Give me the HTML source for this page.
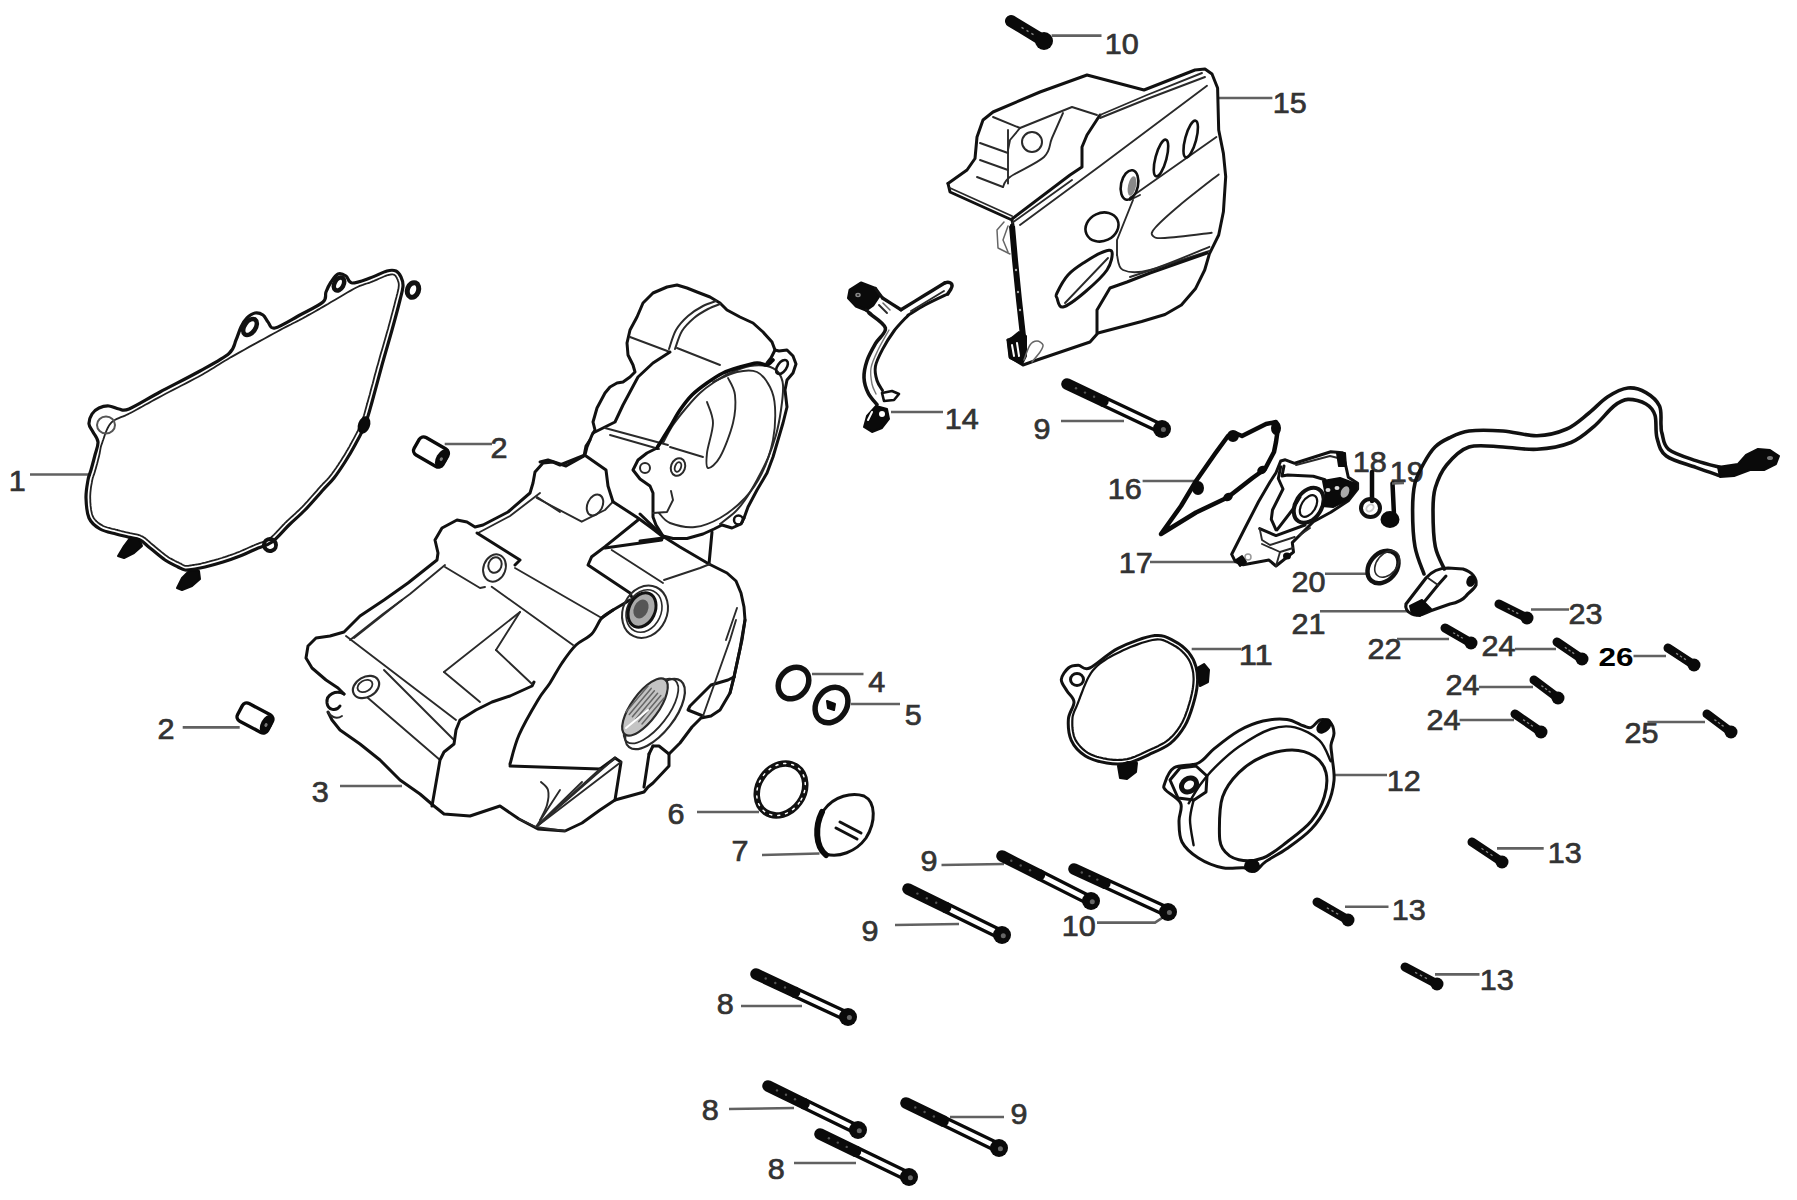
<!DOCTYPE html>
<html><head><meta charset="utf-8"><style>
html,body{margin:0;padding:0;background:#fff;overflow:hidden;width:1797px;height:1200px;}
svg{display:block;}
.k{fill:none;stroke:#111;stroke-width:3;stroke-linecap:round;stroke-linejoin:round;}
.kk{fill:none;stroke:#0a0a0a;stroke-width:4.5;stroke-linecap:round;stroke-linejoin:round;}
.t{fill:none;stroke:#2a2a2a;stroke-width:1.9;stroke-linecap:round;stroke-linejoin:round;}
.tg{fill:none;stroke:#666;stroke-width:1.5;stroke-linecap:round;stroke-linejoin:round;}
.w{fill:none;stroke:#fff;stroke-width:2;stroke-linecap:round;stroke-linejoin:round;}
.f{fill:#0a0a0a;stroke:#0a0a0a;stroke-width:2;stroke-linejoin:round;}
.ld{fill:none;stroke:#616161;stroke-width:2.6;}
.bs{fill:#fff;stroke:#0a0a0a;stroke-width:3.3;stroke-linejoin:round;}
.lt{font-family:"Liberation Sans",sans-serif;fill:#333;stroke:#333;stroke-width:0.7px;}
.lb{font-family:"Liberation Sans",sans-serif;font-weight:bold;fill:#000;}
</style></head><body>
<svg width="1797" height="1200" viewBox="0 0 1797 1200">
<rect width="1797" height="1200" fill="#fff"/>
<text x="1104.7" y="53.5" class="lt" font-size="29" textLength="34.0" lengthAdjust="spacingAndGlyphs">10</text>
<text x="1272.7" y="113.0" class="lt" font-size="29" textLength="34.0" lengthAdjust="spacingAndGlyphs">15</text>
<text x="944.7" y="429.0" class="lt" font-size="29" textLength="34.0" lengthAdjust="spacingAndGlyphs">14</text>
<text x="1033.6" y="439.0" class="lt" font-size="29" textLength="17.0" lengthAdjust="spacingAndGlyphs">9</text>
<text x="490.5" y="458.0" class="lt" font-size="29" textLength="17.0" lengthAdjust="spacingAndGlyphs">2</text>
<text x="8.7" y="491.0" class="lt" font-size="29" textLength="17.0" lengthAdjust="spacingAndGlyphs">1</text>
<text x="1107.7" y="499.0" class="lt" font-size="29" textLength="34.0" lengthAdjust="spacingAndGlyphs">16</text>
<text x="1352.7" y="471.5" class="lt" font-size="29" textLength="34.0" lengthAdjust="spacingAndGlyphs">18</text>
<text x="1389.7" y="482.0" class="lt" font-size="29" textLength="34.0" lengthAdjust="spacingAndGlyphs">19</text>
<text x="1118.7" y="573.0" class="lt" font-size="29" textLength="34.0" lengthAdjust="spacingAndGlyphs">17</text>
<text x="1291.5" y="592.0" class="lt" font-size="29" textLength="34.0" lengthAdjust="spacingAndGlyphs">20</text>
<text x="1291.5" y="633.5" class="lt" font-size="29" textLength="34.0" lengthAdjust="spacingAndGlyphs">21</text>
<text x="1568.5" y="624.0" class="lt" font-size="29" textLength="34.0" lengthAdjust="spacingAndGlyphs">23</text>
<text x="1367.5" y="658.5" class="lt" font-size="29" textLength="34.0" lengthAdjust="spacingAndGlyphs">22</text>
<text x="1481.5" y="656.0" class="lt" font-size="29" textLength="34.0" lengthAdjust="spacingAndGlyphs">24</text>
<text x="1238.7" y="665.0" class="lt" font-size="29" textLength="34.0" lengthAdjust="spacingAndGlyphs">11</text>
<text x="868.3" y="692.0" class="lt" font-size="29" textLength="17.0" lengthAdjust="spacingAndGlyphs">4</text>
<text x="1445.5" y="694.6" class="lt" font-size="29" textLength="34.0" lengthAdjust="spacingAndGlyphs">24</text>
<text x="904.8" y="725.0" class="lt" font-size="29" textLength="17.0" lengthAdjust="spacingAndGlyphs">5</text>
<text x="157.5" y="739.0" class="lt" font-size="29" textLength="17.0" lengthAdjust="spacingAndGlyphs">2</text>
<text x="1426.5" y="729.6" class="lt" font-size="29" textLength="34.0" lengthAdjust="spacingAndGlyphs">24</text>
<text x="1624.5" y="743.0" class="lt" font-size="29" textLength="34.0" lengthAdjust="spacingAndGlyphs">25</text>
<text x="1386.7" y="791.0" class="lt" font-size="29" textLength="34.0" lengthAdjust="spacingAndGlyphs">12</text>
<text x="311.8" y="802.0" class="lt" font-size="29" textLength="17.0" lengthAdjust="spacingAndGlyphs">3</text>
<text x="667.4" y="824.0" class="lt" font-size="29" textLength="17.0" lengthAdjust="spacingAndGlyphs">6</text>
<text x="1547.7" y="863.4" class="lt" font-size="29" textLength="34.0" lengthAdjust="spacingAndGlyphs">13</text>
<text x="731.4" y="861.0" class="lt" font-size="29" textLength="17.0" lengthAdjust="spacingAndGlyphs">7</text>
<text x="920.6" y="871.0" class="lt" font-size="29" textLength="17.0" lengthAdjust="spacingAndGlyphs">9</text>
<text x="1391.7" y="920.0" class="lt" font-size="29" textLength="34.0" lengthAdjust="spacingAndGlyphs">13</text>
<text x="861.6" y="941.0" class="lt" font-size="29" textLength="17.0" lengthAdjust="spacingAndGlyphs">9</text>
<text x="1061.7" y="936.0" class="lt" font-size="29" textLength="34.0" lengthAdjust="spacingAndGlyphs">10</text>
<text x="1479.7" y="989.5" class="lt" font-size="29" textLength="34.0" lengthAdjust="spacingAndGlyphs">13</text>
<text x="716.7" y="1014.0" class="lt" font-size="29" textLength="17.0" lengthAdjust="spacingAndGlyphs">8</text>
<text x="701.7" y="1120.0" class="lt" font-size="29" textLength="17.0" lengthAdjust="spacingAndGlyphs">8</text>
<text x="1010.6" y="1124.0" class="lt" font-size="29" textLength="17.0" lengthAdjust="spacingAndGlyphs">9</text>
<text x="767.7" y="1179.0" class="lt" font-size="29" textLength="17.0" lengthAdjust="spacingAndGlyphs">8</text>
<text x="1598.6" y="666.0" class="lb" font-size="26" textLength="35" lengthAdjust="spacingAndGlyphs">26</text>
<polyline class="ld" points="1051.6,35.6 1101.5,35.6"/>
<polyline class="ld" points="1219.0,98.0 1272.4,98.0"/>
<polyline class="ld" points="891.0,412.0 943.0,412.0"/>
<polyline class="ld" points="1061.0,421.0 1124.0,421.0"/>
<polyline class="ld" points="444.7,444.0 492.0,444.0"/>
<polyline class="ld" points="30.0,474.5 91.0,474.5"/>
<polyline class="ld" points="1142.6,481.0 1196.5,481.0"/>
<polyline class="ld" points="1150.0,562.0 1238.0,562.0"/>
<polyline class="ld" points="1325.0,573.7 1367.0,573.7"/>
<polyline class="ld" points="1320.0,611.2 1408.0,611.2"/>
<polyline class="ld" points="1531.0,609.5 1569.0,609.5"/>
<polyline class="ld" points="1397.0,639.0 1449.0,639.0"/>
<polyline class="ld" points="1515.0,649.0 1556.0,649.0"/>
<polyline class="ld" points="1633.5,656.0 1666.0,656.0"/>
<polyline class="ld" points="1191.7,649.0 1241.0,649.0"/>
<polyline class="ld" points="812.0,674.0 863.5,674.0"/>
<polyline class="ld" points="1479.0,687.0 1533.0,687.0"/>
<polyline class="ld" points="851.0,704.0 900.0,704.0"/>
<polyline class="ld" points="182.7,727.4 239.7,727.4"/>
<polyline class="ld" points="1459.5,720.0 1514.0,720.0"/>
<polyline class="ld" points="1647.4,722.0 1705.0,722.0"/>
<polyline class="ld" points="1334.0,775.0 1387.0,775.0"/>
<polyline class="ld" points="340.0,786.0 402.0,786.0"/>
<polyline class="ld" points="697.0,812.0 759.0,812.0"/>
<polyline class="ld" points="1497.0,848.4 1543.7,848.4"/>
<polyline class="ld" points="762.0,855.0 819.5,853.5"/>
<polyline class="ld" points="941.5,865.0 1004.0,864.0"/>
<polyline class="ld" points="1345.0,906.8 1388.5,906.8"/>
<polyline class="ld" points="895.0,925.0 959.0,924.0"/>
<polyline class="ld" points="1097.0,922.6 1155.0,922.6 1165.0,916.0"/>
<polyline class="ld" points="1435.0,974.4 1479.5,974.4"/>
<polyline class="ld" points="741.0,1006.0 802.0,1006.0"/>
<polyline class="ld" points="729.0,1109.0 794.0,1108.0"/>
<polyline class="ld" points="950.0,1117.0 1004.0,1117.0"/>
<polyline class="ld" points="794.0,1163.0 856.0,1163.0"/>
<polygon class="bs" points="1037.6,878.5 1084.4,902.1 1088.0,895.0 1041.2,871.3"/>
<line x1="1002.0" y1="856.0" x2="1039.4" y2="874.9" stroke="#0a0a0a" stroke-width="11.5" stroke-linecap="round"/>
<circle cx="1011.3" cy="860.7" r="1.2" fill="#555"/>
<circle cx="1020.7" cy="865.5" r="1.2" fill="#555"/>
<circle cx="1030.0" cy="870.2" r="1.2" fill="#555"/>
<circle cx="1091.0" cy="901.0" r="9" fill="#0a0a0a"/>
<circle cx="1092.3" cy="901.7" r="2.5" fill="#666"/>
<polygon class="bs" points="1103.4,886.8 1161.4,913.4 1164.8,906.1 1106.7,879.6"/>
<line x1="1074.0" y1="869.0" x2="1105.0" y2="883.2" stroke="#0a0a0a" stroke-width="11.5" stroke-linecap="round"/>
<circle cx="1081.8" cy="872.5" r="1.2" fill="#555"/>
<circle cx="1089.5" cy="876.1" r="1.2" fill="#555"/>
<circle cx="1097.3" cy="879.6" r="1.2" fill="#555"/>
<circle cx="1168.0" cy="912.0" r="9" fill="#0a0a0a"/>
<circle cx="1169.4" cy="912.6" r="2.5" fill="#666"/>
<polygon class="bs" points="943.8,911.0 995.4,936.2 998.9,929.0 947.4,903.8"/>
<line x1="908.0" y1="889.0" x2="945.6" y2="907.4" stroke="#0a0a0a" stroke-width="11.5" stroke-linecap="round"/>
<circle cx="917.4" cy="893.6" r="1.2" fill="#555"/>
<circle cx="926.8" cy="898.2" r="1.2" fill="#555"/>
<circle cx="936.2" cy="902.8" r="1.2" fill="#555"/>
<circle cx="1002.0" cy="935.0" r="9" fill="#0a0a0a"/>
<circle cx="1003.3" cy="935.7" r="2.5" fill="#666"/>
<polygon class="bs" points="792.9,995.7 841.4,1018.3 844.8,1011.1 796.3,988.4"/>
<line x1="756.0" y1="974.0" x2="794.6" y2="992.1" stroke="#0a0a0a" stroke-width="11.5" stroke-linecap="round"/>
<circle cx="765.7" cy="978.5" r="1.2" fill="#555"/>
<circle cx="775.3" cy="983.0" r="1.2" fill="#555"/>
<circle cx="785.0" cy="987.5" r="1.2" fill="#555"/>
<circle cx="848.0" cy="1017.0" r="9" fill="#0a0a0a"/>
<circle cx="849.4" cy="1017.6" r="2.5" fill="#666"/>
<polygon class="bs" points="802.2,1107.2 851.4,1131.2 854.9,1124.0 805.8,1100.0"/>
<line x1="768.0" y1="1086.0" x2="804.0" y2="1103.6" stroke="#0a0a0a" stroke-width="11.5" stroke-linecap="round"/>
<circle cx="777.0" cy="1090.4" r="1.2" fill="#555"/>
<circle cx="786.0" cy="1094.8" r="1.2" fill="#555"/>
<circle cx="795.0" cy="1099.2" r="1.2" fill="#555"/>
<circle cx="858.0" cy="1130.0" r="9" fill="#0a0a0a"/>
<circle cx="859.3" cy="1130.7" r="2.5" fill="#666"/>
<polygon class="bs" points="853.9,1154.8 902.4,1178.3 905.9,1171.0 857.3,1147.6"/>
<line x1="820.0" y1="1134.0" x2="855.6" y2="1151.2" stroke="#0a0a0a" stroke-width="11.5" stroke-linecap="round"/>
<circle cx="828.9" cy="1138.3" r="1.2" fill="#555"/>
<circle cx="837.8" cy="1142.6" r="1.2" fill="#555"/>
<circle cx="846.7" cy="1146.9" r="1.2" fill="#555"/>
<circle cx="909.0" cy="1177.0" r="9" fill="#0a0a0a"/>
<circle cx="910.4" cy="1177.7" r="2.5" fill="#666"/>
<polygon class="bs" points="941.5,1124.6 992.4,1149.2 995.9,1142.0 944.9,1117.4"/>
<line x1="906.0" y1="1103.0" x2="943.2" y2="1121.0" stroke="#0a0a0a" stroke-width="11.5" stroke-linecap="round"/>
<circle cx="915.3" cy="1107.5" r="1.2" fill="#555"/>
<circle cx="924.6" cy="1112.0" r="1.2" fill="#555"/>
<circle cx="933.9" cy="1116.5" r="1.2" fill="#555"/>
<circle cx="999.0" cy="1148.0" r="9" fill="#0a0a0a"/>
<circle cx="1000.4" cy="1148.7" r="2.5" fill="#666"/>
<polygon class="bs" points="1101.4,404.7 1155.4,430.3 1158.8,423.1 1104.8,397.5"/>
<line x1="1067.0" y1="384.0" x2="1103.1" y2="401.1" stroke="#0a0a0a" stroke-width="11.5" stroke-linecap="round"/>
<circle cx="1076.0" cy="388.3" r="1.2" fill="#555"/>
<circle cx="1085.0" cy="392.6" r="1.2" fill="#555"/>
<circle cx="1094.1" cy="396.8" r="1.2" fill="#555"/>
<circle cx="1162.0" cy="429.0" r="9" fill="#0a0a0a"/>
<circle cx="1163.4" cy="429.6" r="2.5" fill="#666"/>
<line x1="1011.0" y1="21.0" x2="1044.0" y2="41.0" stroke="#0a0a0a" stroke-width="12" stroke-linecap="round"/>
<line x1="1021.5" y1="27.4" x2="1023.6" y2="28.6" stroke="#888" stroke-width="1.3"/>
<line x1="1026.5" y1="30.4" x2="1028.5" y2="31.6" stroke="#888" stroke-width="1.3"/>
<line x1="1031.4" y1="33.4" x2="1033.5" y2="34.6" stroke="#888" stroke-width="1.3"/>
<circle cx="1044.0" cy="41.0" r="9" fill="#0a0a0a"/>
<line x1="1472.0" y1="842.0" x2="1502.0" y2="862.0" stroke="#0a0a0a" stroke-width="9" stroke-linecap="round"/>
<line x1="1481.5" y1="848.3" x2="1483.5" y2="849.7" stroke="#888" stroke-width="1.3"/>
<line x1="1486.0" y1="851.3" x2="1488.0" y2="852.7" stroke="#888" stroke-width="1.3"/>
<line x1="1490.5" y1="854.3" x2="1492.5" y2="855.7" stroke="#888" stroke-width="1.3"/>
<circle cx="1502.0" cy="862.0" r="6.5" fill="#0a0a0a"/>
<line x1="1317.0" y1="902.0" x2="1348.0" y2="920.0" stroke="#0a0a0a" stroke-width="9" stroke-linecap="round"/>
<line x1="1326.8" y1="907.7" x2="1328.9" y2="908.9" stroke="#888" stroke-width="1.3"/>
<line x1="1331.5" y1="910.4" x2="1333.5" y2="911.6" stroke="#888" stroke-width="1.3"/>
<line x1="1336.1" y1="913.1" x2="1338.2" y2="914.3" stroke="#888" stroke-width="1.3"/>
<circle cx="1348.0" cy="920.0" r="6.5" fill="#0a0a0a"/>
<line x1="1405.0" y1="967.0" x2="1437.0" y2="984.0" stroke="#0a0a0a" stroke-width="9" stroke-linecap="round"/>
<line x1="1415.1" y1="972.4" x2="1417.3" y2="973.5" stroke="#888" stroke-width="1.3"/>
<line x1="1419.9" y1="974.9" x2="1422.1" y2="976.1" stroke="#888" stroke-width="1.3"/>
<line x1="1424.7" y1="977.5" x2="1426.9" y2="978.6" stroke="#888" stroke-width="1.3"/>
<circle cx="1437.0" cy="984.0" r="6.5" fill="#0a0a0a"/>
<line x1="1499.0" y1="604.0" x2="1527.0" y2="618.0" stroke="#0a0a0a" stroke-width="9" stroke-linecap="round"/>
<line x1="1507.7" y1="608.4" x2="1509.9" y2="609.4" stroke="#888" stroke-width="1.3"/>
<line x1="1511.9" y1="610.5" x2="1514.1" y2="611.5" stroke="#888" stroke-width="1.3"/>
<line x1="1516.1" y1="612.6" x2="1518.3" y2="613.6" stroke="#888" stroke-width="1.3"/>
<circle cx="1527.0" cy="618.0" r="6.5" fill="#0a0a0a"/>
<line x1="1445.0" y1="628.0" x2="1471.0" y2="643.0" stroke="#0a0a0a" stroke-width="9" stroke-linecap="round"/>
<line x1="1453.1" y1="632.7" x2="1455.1" y2="633.8" stroke="#888" stroke-width="1.3"/>
<line x1="1457.0" y1="634.9" x2="1459.0" y2="636.1" stroke="#888" stroke-width="1.3"/>
<line x1="1460.9" y1="637.2" x2="1462.9" y2="638.3" stroke="#888" stroke-width="1.3"/>
<circle cx="1471.0" cy="643.0" r="6.5" fill="#0a0a0a"/>
<line x1="1557.0" y1="642.0" x2="1582.0" y2="659.0" stroke="#0a0a0a" stroke-width="9" stroke-linecap="round"/>
<line x1="1564.8" y1="647.3" x2="1566.7" y2="648.6" stroke="#888" stroke-width="1.3"/>
<line x1="1568.5" y1="649.8" x2="1570.5" y2="651.2" stroke="#888" stroke-width="1.3"/>
<line x1="1572.3" y1="652.4" x2="1574.2" y2="653.7" stroke="#888" stroke-width="1.3"/>
<circle cx="1582.0" cy="659.0" r="6.5" fill="#0a0a0a"/>
<line x1="1534.0" y1="680.0" x2="1558.0" y2="698.0" stroke="#0a0a0a" stroke-width="9" stroke-linecap="round"/>
<line x1="1541.4" y1="685.6" x2="1543.4" y2="687.0" stroke="#888" stroke-width="1.3"/>
<line x1="1545.0" y1="688.3" x2="1547.0" y2="689.7" stroke="#888" stroke-width="1.3"/>
<line x1="1548.6" y1="691.0" x2="1550.6" y2="692.4" stroke="#888" stroke-width="1.3"/>
<circle cx="1558.0" cy="698.0" r="6.5" fill="#0a0a0a"/>
<line x1="1515.0" y1="714.0" x2="1541.0" y2="732.0" stroke="#0a0a0a" stroke-width="9" stroke-linecap="round"/>
<line x1="1523.1" y1="719.6" x2="1525.1" y2="721.0" stroke="#888" stroke-width="1.3"/>
<line x1="1527.0" y1="722.3" x2="1529.0" y2="723.7" stroke="#888" stroke-width="1.3"/>
<line x1="1530.9" y1="725.0" x2="1532.9" y2="726.4" stroke="#888" stroke-width="1.3"/>
<circle cx="1541.0" cy="732.0" r="6.5" fill="#0a0a0a"/>
<line x1="1668.0" y1="648.0" x2="1694.0" y2="665.0" stroke="#0a0a0a" stroke-width="9" stroke-linecap="round"/>
<line x1="1676.1" y1="653.3" x2="1678.1" y2="654.6" stroke="#888" stroke-width="1.3"/>
<line x1="1680.0" y1="655.8" x2="1682.0" y2="657.2" stroke="#888" stroke-width="1.3"/>
<line x1="1683.9" y1="658.4" x2="1685.9" y2="659.7" stroke="#888" stroke-width="1.3"/>
<circle cx="1694.0" cy="665.0" r="6.5" fill="#0a0a0a"/>
<line x1="1707.0" y1="714.0" x2="1731.0" y2="732.0" stroke="#0a0a0a" stroke-width="9" stroke-linecap="round"/>
<line x1="1714.4" y1="719.6" x2="1716.4" y2="721.0" stroke="#888" stroke-width="1.3"/>
<line x1="1718.0" y1="722.3" x2="1720.0" y2="723.7" stroke="#888" stroke-width="1.3"/>
<line x1="1721.6" y1="725.0" x2="1723.6" y2="726.4" stroke="#888" stroke-width="1.3"/>
<circle cx="1731.0" cy="732.0" r="6.5" fill="#0a0a0a"/>
<path class="k" d="M93.0,432.0 C91.5,429.0 89.2,427.0 89.0,424.0 C88.8,421.0 90.3,416.7 92.0,414.0 C93.7,411.3 96.2,409.3 99.0,408.0 C101.8,406.7 105.7,405.8 109.0,406.0 C112.3,406.2 115.7,408.5 119.0,409.0 C122.3,409.5 122.2,411.8 129.0,409.0 C135.8,406.2 148.2,398.3 160.0,392.0 C171.8,385.7 188.5,377.4 200.0,371.0 C211.5,364.6 223.0,358.7 229.0,353.5 C235.0,348.3 234.0,344.4 236.0,340.0 C238.0,335.6 239.2,330.7 241.0,327.0 C242.8,323.3 244.7,320.3 247.0,318.0 C249.3,315.7 252.3,313.5 255.0,313.0 C257.7,312.5 260.8,313.5 263.0,315.0 C265.2,316.5 266.0,319.8 268.0,322.0 C270.0,324.2 269.7,329.2 275.0,328.0 C280.3,326.8 292.0,319.3 300.0,315.0 C308.0,310.7 318.7,305.8 323.0,302.0 C327.3,298.2 324.7,295.3 326.0,292.0 C327.3,288.7 329.0,285.0 331.0,282.0 C333.0,279.0 335.5,275.0 338.0,274.0 C340.5,273.0 343.7,274.5 346.0,276.0 C348.3,277.5 348.0,282.7 352.0,283.0 C356.0,283.3 364.2,280.0 370.0,278.0 C375.8,276.0 382.7,272.2 387.0,271.0 C391.3,269.8 393.7,270.0 396.0,271.0 C398.3,272.0 399.8,274.5 401.0,277.0 C402.2,279.5 403.2,282.2 403.0,286.0 C402.8,289.8 401.8,292.7 400.0,300.0 C398.2,307.3 395.0,319.2 392.0,330.0 C389.0,340.8 385.3,353.0 382.0,365.0 C378.7,377.0 374.8,392.0 372.0,402.0 C369.2,412.0 367.8,417.8 365.0,425.0 C362.2,432.2 358.3,438.8 355.0,445.0 C351.7,451.2 348.5,456.5 345.0,462.0 C341.5,467.5 337.7,473.3 334.0,478.0 C330.3,482.7 327.8,484.7 323.0,490.0 C318.2,495.3 310.7,504.2 305.0,510.0 C299.3,515.8 294.5,519.7 289.0,525.0 C283.5,530.3 277.5,538.0 272.0,542.0 C266.5,546.0 261.3,546.7 256.0,549.0 C250.7,551.3 245.5,553.8 240.0,556.0 C234.5,558.2 228.8,560.2 223.0,562.0 C217.2,563.8 209.7,565.8 205.0,567.0 C200.3,568.2 198.3,568.5 195.0,569.0 C191.7,569.5 187.8,570.3 185.0,570.0 C182.2,569.7 181.3,568.7 178.0,567.0 C174.7,565.3 169.7,563.2 165.0,560.0 C160.3,556.8 154.2,551.3 150.0,548.0 C145.8,544.7 143.7,541.8 140.0,540.0 C136.3,538.2 132.0,538.0 128.0,537.0 C124.0,536.0 120.7,535.3 116.0,534.0 C111.3,532.7 104.5,531.7 100.0,529.0 C95.5,526.3 91.3,523.2 89.0,518.0 C86.7,512.8 86.2,504.3 86.0,498.0 C85.8,491.7 87.2,484.7 88.0,480.0 C88.8,475.3 89.8,474.2 91.0,470.0 C92.2,465.8 93.8,459.7 95.0,455.0 C96.2,450.3 98.3,445.8 98.0,442.0 C97.7,438.2 94.5,435.0 93.0,432.0 Z" style="stroke-width:3.2"/>
<path class="t" d="M102.0,443.4 L101.4,445.0 L101.0,446.3 L100.7,447.5 L100.5,448.6 L100.3,449.7 L100.1,450.8 L99.9,451.9 L99.9,451.9 L99.7,453.1 L99.7,453.2 L99.4,454.5 L99.4,454.6 L99.1,455.9 L99.1,456.0 L98.7,457.5 L98.7,457.5 L98.3,459.0 L98.3,459.0 L97.9,460.6 L97.9,460.6 L97.5,462.2 L97.5,462.2 L97.1,463.8 L97.1,463.8 L96.6,465.4 L96.6,465.4 L96.2,466.9 L96.2,466.9 L95.8,468.4 L95.8,468.4 L95.4,469.8 L95.4,469.8 L95.0,471.1 L95.0,471.2 L94.7,472.4 L94.6,472.5 L94.3,473.5 L94.3,473.6 L94.0,474.5 L93.9,474.6 L93.6,475.4 L93.3,476.2 L93.1,477.0 L92.8,477.8 L92.6,478.6 L92.4,479.6 L92.1,480.8 L91.9,482.2 L91.6,483.8 L91.3,485.4 L91.0,487.2 L90.8,488.9 L90.6,490.7 L90.4,492.6 L90.3,494.4 L90.2,496.2 L90.2,497.9 L90.3,499.8 L90.3,501.8 L90.5,503.8 L90.6,505.9 L90.9,507.9 L91.1,509.9 L91.5,511.7 L91.9,513.5 L92.3,515.0 L92.8,516.3 L93.4,517.4 L94.1,518.5 L94.8,519.5 L95.7,520.5 L96.6,521.4 L97.5,522.2 L98.6,523.1 L99.7,523.9 L100.9,524.6 L102.1,525.3 L103.2,526.0 L104.5,526.5 L105.9,527.0 L107.4,527.5 L109.0,527.9 L110.7,528.4 L112.3,528.8 L113.9,529.1 L114.0,529.1 L115.5,529.5 L115.6,529.6 L117.1,529.9 L117.1,530.0 L118.5,530.3 L119.7,530.7 L120.9,531.0 L122.1,531.3 L123.2,531.5 L124.4,531.8 L125.5,532.1 L126.6,532.3 L126.6,532.3 L127.8,532.6 L127.8,532.6 L129.0,532.9 L130.1,533.2 L131.2,533.4 L132.4,533.6 L133.6,533.8 L133.7,533.8 L134.9,534.1 L135.0,534.1 L136.2,534.3 L136.3,534.4 L137.5,534.7 L137.7,534.7 L138.9,535.1 L139.2,535.1 L140.3,535.5 L140.6,535.7 L141.7,536.2 L142.0,536.3 L143.1,536.9 L143.3,537.0 L144.3,537.7 L144.5,537.8 L145.5,538.5 L145.6,538.6 L146.5,539.4 L146.7,539.5 L147.6,540.3 L147.6,540.3 L148.6,541.2 L148.6,541.2 L149.5,542.0 L150.5,542.9 L151.5,543.8 L152.7,544.7 L154.0,545.8 L154.0,545.8 L155.4,547.0 L155.4,547.0 L156.9,548.2 L158.4,549.5 L160.0,550.8 L161.6,552.1 L163.1,553.3 L164.6,554.5 L166.0,555.6 L167.4,556.5 L168.7,557.4 L170.0,558.2 L171.3,558.9 L172.6,559.6 L173.9,560.3 L175.2,561.0 L176.4,561.6 L177.6,562.2 L178.8,562.7 L178.8,562.7 L179.9,563.2 L179.9,563.3 L180.9,563.7 L180.9,563.8 L181.7,564.2 L181.8,564.3 L182.5,564.7 L183.1,565.0 L183.6,565.3 L184.0,565.4 L184.3,565.6 L184.6,565.7 L185.0,565.8 L185.5,565.8 L186.0,565.9 L186.7,565.9 L187.5,565.8 L188.3,565.8 L189.3,565.6 L190.2,565.5 L191.2,565.4 L192.3,565.2 L193.3,565.0 L193.3,565.0 L194.4,564.9 L194.4,564.8 L195.3,564.7 L196.2,564.6 L197.0,564.4 L197.9,564.3 L198.7,564.1 L199.6,564.0 L200.5,563.8 L201.5,563.5 L202.7,563.2 L204.0,562.9 L205.4,562.6 L207.0,562.1 L208.8,561.7 L210.6,561.2 L212.5,560.7 L214.4,560.2 L216.3,559.6 L218.1,559.1 L220.0,558.5 L221.7,558.0 L223.5,557.4 L225.2,556.9 L226.9,556.3 L228.6,555.7 L230.2,555.2 L231.9,554.6 L233.6,554.0 L235.2,553.4 L236.8,552.7 L238.5,552.1 L240.0,551.5 L241.6,550.8 L243.2,550.1 L244.8,549.4 L246.3,548.7 L247.9,548.0 L249.5,547.3 L251.1,546.6 L251.1,546.6 L252.7,545.9 L252.7,545.9 L254.3,545.2 L254.4,545.1 L256.0,544.5 L256.1,544.4 L257.7,543.8 L257.8,543.8 L259.4,543.2 L259.4,543.2 L261.0,542.7 L262.5,542.2 L264.0,541.6 L265.4,541.0 L266.8,540.3 L268.1,539.5 L269.5,538.6 L271.0,537.5 L272.5,536.1 L274.1,534.6 L275.8,532.9 L277.4,531.1 L279.1,529.3 L280.9,527.4 L280.9,527.4 L282.6,525.6 L282.6,525.5 L284.3,523.8 L284.4,523.7 L286.0,522.0 L286.1,522.0 L287.7,520.4 L287.8,520.4 L289.4,518.9 L289.4,518.9 L291.0,517.4 L291.0,517.4 L292.6,516.0 L294.1,514.6 L295.7,513.2 L297.2,511.7 L298.8,510.3 L300.4,508.7 L302.0,507.1 L303.7,505.3 L305.5,503.3 L307.4,501.3 L309.3,499.2 L311.2,497.0 L313.1,494.9 L314.9,492.8 L316.7,490.8 L316.7,490.8 L318.3,488.9 L318.3,488.9 L319.9,487.2 L319.9,487.2 L321.3,485.7 L321.3,485.6 L322.6,484.3 L322.6,484.2 L323.8,483.0 L323.8,483.0 L324.9,481.9 L325.9,480.8 L326.9,479.8 L327.8,478.8 L328.7,477.8 L329.7,476.6 L330.7,475.4 L331.8,474.0 L332.8,472.6 L333.9,471.1 L335.0,469.5 L336.1,468.0 L337.2,466.3 L338.3,464.7 L339.3,463.0 L340.4,461.4 L341.5,459.7 L342.5,458.1 L343.5,456.5 L344.5,454.9 L345.5,453.3 L346.4,451.6 L347.4,450.0 L348.4,448.3 L349.4,446.6 L350.3,444.8 L351.3,443.0 L352.3,441.1 L352.3,441.1 L353.4,439.2 L354.4,437.3 L355.4,435.4 L356.5,433.4 L357.5,431.5 L358.4,429.5 L359.4,427.5 L360.3,425.5 L361.1,423.5 L361.9,421.4 L362.6,419.5 L363.2,417.5 L363.9,415.5 L364.5,413.4 L365.1,411.2 L365.7,408.9 L366.4,406.4 L366.4,406.4 L367.1,403.8 L367.1,403.7 L368.0,400.9 L368.8,397.7 L369.8,394.4 L370.7,390.8 L371.7,387.0 L372.8,383.2 L373.8,379.2 L374.8,375.3 L374.8,375.3 L375.9,371.4 L375.9,371.4 L376.9,367.6 L376.9,367.6 L378.0,363.9 L378.0,363.9 L379.0,360.3 L379.0,360.2 L380.0,356.6 L380.0,356.6 L381.0,353.0 L381.0,353.0 L382.1,349.4 L383.1,345.9 L384.1,342.4 L385.1,338.9 L386.1,335.5 L387.0,332.2 L388.0,328.9 L388.9,325.6 L389.8,322.3 L390.7,319.0 L391.5,315.8 L392.4,312.6 L393.2,309.5 L394.0,306.6 L394.7,303.8 L395.3,301.3 L395.9,299.0 L396.5,296.9 L396.5,296.9 L396.9,295.0 L396.9,295.0 L397.4,293.4 L397.7,292.0 L398.0,290.7 L398.3,289.6 L398.5,288.6 L398.6,287.7 L398.7,286.7 L398.8,285.8 L398.8,284.9 L398.8,284.2 L398.7,283.4 L398.6,282.7 L398.4,282.0 L398.2,281.4 L398.0,280.8 L397.8,280.1 L397.5,279.4 L397.2,278.8 L396.9,278.1 L396.6,277.5 L396.2,276.9 L395.9,276.4 L395.6,276.0 L395.3,275.6 L395.0,275.3 L394.8,275.1 L394.5,275.0 L394.3,274.8 L393.9,274.7 L393.5,274.6 L393.1,274.5 L392.7,274.4 L392.2,274.4 L391.6,274.4 L390.9,274.5 L390.1,274.6 L389.2,274.8 L388.1,275.0 L386.9,275.4 L385.6,275.9 L384.0,276.5 L382.4,277.2 L380.6,278.0 L378.8,278.8 L377.0,279.6 L377.0,279.6 L375.2,280.4 L375.1,280.4 L373.3,281.2 L373.3,281.2 L371.6,281.9 L371.5,281.9 L369.9,282.5 L369.8,282.6 L368.3,283.1 L368.2,283.1 L366.8,283.5 L366.8,283.5 L365.5,283.9 L364.1,284.3 L362.8,284.8 L361.4,285.3 L359.8,285.9 L358.0,286.7 L355.9,287.7 L353.5,289.0 L350.7,290.6 L347.7,292.3 L344.4,294.2 L341.1,296.2 L337.7,298.2 L334.3,300.2 L334.3,300.2 L331.1,302.1 L331.1,302.1 L328.0,304.0 L328.0,304.0 L325.1,305.6 L325.1,305.6 L322.5,307.1 L320.0,308.6 L317.7,309.9 L317.7,309.9 L315.4,311.2 L315.4,311.2 L313.2,312.5 L313.2,312.5 L311.0,313.7 L311.0,313.7 L308.9,314.9 L308.8,314.9 L306.6,316.1 L306.6,316.2 L304.4,317.4 L304.4,317.4 L302.0,318.7 L302.0,318.7 L299.7,319.9 L299.6,320.0 L297.4,321.1 L297.4,321.1 L295.2,322.2 L295.2,322.3 L293.1,323.3 L293.0,323.3 L290.8,324.5 L288.5,325.6 L286.0,326.9 L283.3,328.3 L280.3,329.9 L277.0,331.7 L273.2,333.8 L268.9,336.1 L264.2,338.7 L259.3,341.4 L254.3,344.1 L249.2,346.9 L244.3,349.7 L239.5,352.4 L235.1,354.9 L231.1,357.1 L227.6,359.2 L224.5,361.0 L221.6,362.8 L218.9,364.5 L216.4,366.1 L216.4,366.1 L213.8,367.7 L213.8,367.7 L211.2,369.3 L211.1,369.3 L208.4,371.0 L208.4,371.0 L205.4,372.8 L205.3,372.8 L202.1,374.7 L202.0,374.7 L198.4,376.7 L198.4,376.7 L194.5,378.7 L194.5,378.8 L190.5,380.9 L190.5,380.9 L186.3,383.1 L186.3,383.1 L182.1,385.3 L182.0,385.3 L177.8,387.5 L173.6,389.6 L169.5,391.7 L165.6,393.8 L162.0,395.7 L158.5,397.6 L155.1,399.4 L151.7,401.3 L148.5,403.1 L145.3,404.8 L142.3,406.5 L139.3,408.1 L139.3,408.1 L136.4,409.7 L136.4,409.7 L133.7,411.2 L133.7,411.3 L131.0,412.7 L130.9,412.7 L128.3,414.0 L128.2,414.1 L125.7,415.2 L125.6,415.3 L123.2,416.3 L123.2,416.3 L120.9,417.2 L118.8,418.1 L116.9,418.9 L115.2,419.8 L113.7,420.7 L112.3,421.7 L111.1,422.9 L109.9,424.3 L108.8,426.0 L107.7,428.0 L106.7,430.1 L105.8,432.4 L104.9,434.7 L104.1,437.1 L103.4,439.3 L103.4,439.3 L102.6,441.4 L102.6,441.5 Z" style="stroke-width:1.8;stroke:#222"/>
<ellipse class="t" cx="106.0" cy="425.0" rx="9.0" ry="8.5" transform="rotate(0 106.0 425.0)" style="stroke-width:2;stroke:#555"/>
<ellipse class="k" cx="250.0" cy="327.0" rx="5.5" ry="9.0" transform="rotate(35 250.0 327.0)" style="stroke-width:4.5"/>
<ellipse class="k" cx="339.0" cy="284.0" rx="4.5" ry="7.0" transform="rotate(30 339.0 284.0)" style="stroke-width:4.5"/>
<ellipse class="k" cx="413.0" cy="290.0" rx="5.5" ry="7.5" transform="rotate(20 413.0 290.0)" style="stroke-width:5"/>
<ellipse class="f" cx="364.0" cy="425.0" rx="5.0" ry="8.0" transform="rotate(20 364.0 425.0)" />
<path class="f" d="M118,556 L124,546 L130,538 L139,539 L142,546 L134,553 L124,558 Z" />
<path class="f" d="M177,588 L182,578 L190,570 L199,571 L200,579 L192,586 L182,590 Z" />
<ellipse class="k" cx="270.0" cy="545.0" rx="6.0" ry="6.0" transform="rotate(-20 270.0 545.0)" style="stroke-width:4"/>
<polyline class="k" points="344.0,694.0 338.0,688.0 326.0,680.0 312.0,668.0 306.0,658.0 308.0,646.0 316.0,638.0 330.0,636.0 344.0,632.0 360.0,616.0 384.0,600.0 408.0,583.0 437.0,560.0 438.0,553.0 435.0,540.0 442.0,528.0 457.0,520.0 467.0,522.0 475.0,527.0 483.0,525.0 508.0,512.0 530.0,493.0 533.0,483.0 535.0,472.0 543.0,463.0 553.0,462.0 560.0,465.0 585.0,455.0 587.0,447.0 592.0,435.0 595.0,430.0 593.0,422.0 597.0,408.0 605.0,393.0 610.0,387.0 617.0,383.0 623.0,382.0 630.0,377.0 635.0,372.0 633.0,365.0 628.0,355.0 627.0,343.0 630.0,330.0 637.0,317.0 643.0,303.0 653.0,293.0 667.0,287.0 677.0,285.0 687.0,288.0 697.0,292.0 710.0,297.0 720.0,303.0 727.0,310.0 740.0,317.0 753.0,323.0 763.0,332.0 772.0,342.0 775.0,350.0 779.0,351.0 787.0,350.0 793.0,356.0 796.0,364.0 793.0,373.0 787.0,380.0 785.0,390.0 787.0,407.0 783.0,423.0 778.0,440.0 773.0,457.0 767.0,473.0 757.0,490.0 748.0,507.0 744.0,518.0"/>
<polyline class="k" points="744.0,518.0 741.0,524.0 732.0,528.0 722.0,525.0 714.0,529.0 703.0,534.0 687.0,538.5 673.0,538.5 663.0,536.0 656.0,525.0 653.0,517.0 653.0,493.0 650.0,486.0 640.0,479.0 633.0,470.0 638.0,460.0 647.0,453.0 657.0,448.0 660.0,443.0"/>
<ellipse class="k" cx="738.5" cy="520.0" rx="4.5" ry="4.5" transform="rotate(0 738.5 520.0)" style="stroke-width:2.5"/>
<polyline class="k" points="640.0,514.0 664.0,537.0 680.0,547.0 709.0,564.0 727.0,573.0 736.0,581.0 741.0,593.0 744.0,607.0 745.0,620.0 742.0,640.0 740.0,649.0 734.0,677.0 730.0,693.0"/>
<polyline class="k" points="712.0,532.0 709.0,564.0"/>
<polyline class="k" points="640.0,541.0 663.0,538.0"/>
<polyline class="k" points="734.0,677.0 730.0,693.0 720.0,710.0 711.0,716.0 701.0,718.0 692.0,727.0 680.0,743.0 669.0,754.0 669.0,766.0 653.0,783.0 648.0,787.0 644.0,792.0 615.0,800.0 600.0,810.0 582.0,823.0 565.0,831.0 538.0,829.0 519.0,819.0 500.0,806.0 470.0,816.0 444.0,814.0 434.0,806.0 420.0,794.0 400.0,780.0 380.0,760.0 360.0,744.0 340.0,730.0 332.0,720.0 328.0,712.0"/>
<path class="k" d="M344,694 C336,690 326,694 327,703 C328,710 336,712 340,706" />
<path class="t" d="M328,712 C330,716 336,720 342,716" />
<polyline class="k" points="734.0,677.0 728.0,680.0 711.0,685.0 690.0,706.0 688.0,710.0 703.0,716.0"/>
<polyline class="t" points="737.0,608.0 726.0,640.0"/>
<polyline class="k" points="745.0,620.0 740.0,649.0 734.0,677.0"/>
<polyline class="t" points="736.0,620.0 730.0,640.0 703.0,716.0"/>
<polyline class="k" points="653.0,746.0 659.0,746.0 669.0,754.0"/>
<polyline class="k" points="649.0,754.0 653.0,746.0"/>
<polyline class="k" points="649.0,754.0 644.0,787.0"/>
<polyline class="k" points="615.0,758.0 621.0,762.0 615.0,800.0"/>
<polyline class="k" points="600.0,769.0 615.0,758.0"/>
<polyline class="k" points="510.0,766.0 600.0,769.0"/>
<polyline class="t" points="536.0,827.0 600.0,769.0"/>
<polyline class="t" points="536.0,827.0 615.0,758.0"/>
<polyline class="t" points="536.0,827.0 621.0,762.0"/>
<polyline class="t" points="536.0,827.0 582.0,782.0"/>
<polyline class="t" points="536.0,827.0 560.0,790.0"/>
<polyline class="t" points="536.0,827.0 519.0,819.0"/>
<polyline class="t" points="536.0,827.0 565.0,831.0"/>
<path class="t" d="M541.0,782.0 C542.2,783.3 547.0,786.2 548.0,790.0 C549.0,793.8 548.3,800.0 547.0,805.0 C545.7,810.0 541.2,817.5 540.0,820.0" />
<ellipse class="t" cx="655.0" cy="714.0" rx="42.0" ry="19.0" transform="rotate(-52 655.0 714.0)" style="stroke-width:2.2"/>
<ellipse class="t" cx="651.0" cy="711.0" rx="39.0" ry="16.5" transform="rotate(-52 651.0 711.0)" style="stroke-width:1.8"/>
<ellipse class="t" cx="645.0" cy="707.0" rx="34.0" ry="13.5" transform="rotate(-54 645.0 707.0)" style="stroke-width:2.2;fill:#c4c4c4"/>
<polyline class="tg" points="626.0,712.0 648.0,686.0"/>
<polyline class="tg" points="629.2,714.4 651.2,688.4"/>
<polyline class="tg" points="632.4,716.8 654.4,690.8"/>
<polyline class="tg" points="635.6,719.2 657.6,693.2"/>
<polyline class="tg" points="638.8,721.6 660.8,695.6"/>
<polyline class="tg" points="642.0,724.0 664.0,698.0"/>
<polyline class="w" points="626.0,728.0 648.0,710.0"/>
<polyline class="t" points="350.0,640.0 383.0,614.0 410.0,594.0 445.0,565.0"/>
<polyline class="t" points="478.0,533.0 510.0,516.0 540.0,493.0"/>
<polyline class="k" points="477.0,533.0 520.0,560.0 515.0,565.0"/>
<polyline class="t" points="445.0,567.0 480.0,588.0 485.0,587.0"/>
<ellipse class="t" cx="494.5" cy="568.0" rx="11.0" ry="14.0" transform="rotate(20 494.5 568.0)" style="stroke-width:2"/>
<ellipse class="t" cx="495.0" cy="565.0" rx="6.5" ry="8.0" transform="rotate(20 495.0 565.0)" style="stroke-width:2"/>
<polyline class="t" points="537.0,497.0 560.0,512.0"/>
<polyline class="k" points="540.0,462.0 548.0,460.0 566.0,466.0 584.0,456.0 586.0,446.0 590.0,440.0"/>
<polyline class="k" points="586.0,456.0 606.0,470.0 608.0,486.0 613.0,501.7"/>
<polyline class="t" points="536.7,498.0 581.7,521.7 605.0,510.0 613.0,501.7"/>
<ellipse class="t" cx="595.0" cy="505.0" rx="7.5" ry="11.0" transform="rotate(25 595.0 505.0)" style="stroke-width:2"/>
<polyline class="k" points="613.0,501.7 638.0,518.0 651.7,528.0 663.0,536.7"/>
<polyline class="k" points="638.0,520.0 605.0,546.7 591.7,556.7 588.0,565.0 630.0,593.0 633.0,600.0"/>
<polyline class="k" points="605.0,548.0 661.7,540.0"/>
<polyline class="t" points="611.7,550.0 663.0,583.0"/>
<polyline class="t" points="515.0,568.0 601.7,618.0"/>
<polyline class="t" points="491.7,586.7 573.0,645.0"/>
<polyline class="k" points="601.7,618.0 613.0,610.0 630.0,600.0"/>
<path class="k" d="M613.0,610.0 C611.1,611.3 605.2,614.0 601.7,618.0 C598.2,622.0 596.0,629.5 591.7,634.0 C587.4,638.5 581.0,640.2 576.0,645.0 C571.0,649.8 566.3,656.7 562.0,663.0 C557.7,669.3 554.0,676.8 550.0,683.0 C546.0,689.2 543.2,691.3 538.0,700.0 C532.8,708.7 523.7,724.3 519.0,735.0 C514.3,745.7 511.5,759.2 510.0,764.0" />
<polyline class="t" points="664.0,580.0 700.0,568.0 710.0,564.0"/>
<ellipse class="t" cx="645.0" cy="611.7" rx="22.0" ry="27.0" transform="rotate(25 645.0 611.7)" style="stroke-width:2"/>
<ellipse class="t" cx="644.0" cy="611.0" rx="17.0" ry="22.0" transform="rotate(25 644.0 611.0)" style="stroke-width:1.6"/>
<ellipse class="k" cx="642.0" cy="610.0" rx="13.0" ry="18.0" transform="rotate(25 642.0 610.0)" style="stroke-width:3;fill:#aaa"/>
<ellipse class="f" cx="641.0" cy="609.0" rx="7.0" ry="10.0" transform="rotate(25 641.0 609.0)" style="fill:#555;stroke:none"/>
<polyline class="t" points="346.0,636.0 456.0,720.0"/>
<polyline class="t" points="354.0,638.0 402.0,600.0"/>
<polyline class="t" points="384.0,670.0 454.0,740.0"/>
<polyline class="t" points="368.0,698.0 440.0,760.0"/>
<ellipse class="t" cx="366.0" cy="687.0" rx="14.0" ry="10.0" transform="rotate(-30 366.0 687.0)" style="stroke-width:2.2"/>
<ellipse class="t" cx="365.0" cy="686.0" rx="8.0" ry="5.5" transform="rotate(-30 365.0 686.0)" style="stroke-width:1.8"/>
<polyline class="k" points="432.0,806.0 440.0,760.0 444.0,752.0 454.0,744.0 456.0,730.0 460.0,720.0 476.0,710.0 492.0,702.0 510.0,696.0 532.0,686.0 534.0,682.0"/>
<polyline class="t" points="444.0,672.0 480.0,702.0"/>
<polyline class="t" points="444.0,672.0 520.0,612.0"/>
<polyline class="t" points="496.0,650.0 532.0,684.0"/>
<polyline class="t" points="496.0,650.0 520.0,612.0"/>
<polyline class="t" points="630.0,337.0 670.0,352.0"/>
<polyline class="t" points="677.0,348.0 720.0,365.0"/>
<path class="t" d="M669.0,349.0 C670.2,345.8 672.8,335.5 676.0,330.0 C679.2,324.5 683.5,320.0 688.0,316.0 C692.5,312.0 698.3,308.5 703.0,306.0 C707.7,303.5 713.8,301.8 716.0,301.0" style="stroke-width:2"/>
<path class="t" d="M675.0,349.0 C676.2,346.0 678.8,336.2 682.0,331.0 C685.2,325.8 689.7,321.7 694.0,318.0 C698.3,314.3 703.7,311.3 708.0,309.0 C712.3,306.7 718.0,304.8 720.0,304.0" style="stroke-width:2"/>
<polyline class="k" points="593.0,433.0 615.0,422.0 623.0,405.0 638.0,377.0 653.0,363.0 670.0,352.0"/>
<polyline class="t" points="605.0,428.0 668.0,445.0"/>
<polyline class="t" points="610.0,435.0 659.0,449.0"/>
<polyline class="t" points="670.0,447.0 703.0,457.0"/>
<path class="t" d="M663.0,443.0 C664.7,440.0 669.0,431.0 673.0,425.0 C677.0,419.0 682.5,412.3 687.0,407.0 C691.5,401.7 695.7,397.0 700.0,393.0 C704.3,389.0 708.0,386.3 713.0,383.0 C718.0,379.7 723.8,375.8 730.0,373.0 C736.2,370.2 743.8,367.2 750.0,366.0 C756.2,364.8 762.3,365.0 767.0,366.0 C771.7,367.0 775.3,368.8 778.0,372.0 C780.7,375.2 782.5,378.7 783.0,385.0 C783.5,391.3 782.2,401.7 781.0,410.0 C779.8,418.3 778.2,427.0 776.0,435.0 C773.8,443.0 771.2,450.5 768.0,458.0 C764.8,465.5 760.8,473.0 757.0,480.0 C753.2,487.0 748.7,494.7 745.0,500.0 C741.3,505.3 739.2,508.0 735.0,512.0 C730.8,516.0 722.5,522.0 720.0,524.0" style="stroke-width:2"/>
<path class="t" d="M713.0,382.0 C717.0,380.3 729.7,373.7 737.0,372.0 C744.3,370.3 751.5,369.5 757.0,372.0 C762.5,374.5 767.0,381.2 770.0,387.0 C773.0,392.8 774.5,398.2 775.0,407.0 C775.5,415.8 775.2,429.0 773.0,440.0 C770.8,451.0 766.7,463.3 762.0,473.0 C757.3,482.7 752.0,490.5 745.0,498.0 C738.0,505.5 728.3,513.2 720.0,518.0 C711.7,522.8 703.3,526.2 695.0,527.0 C686.7,527.8 676.0,525.3 670.0,523.0 C664.0,520.7 660.8,514.7 659.0,513.0" />
<path class="t" d="M707.0,402.0 C708.0,405.5 713.0,414.5 713.0,423.0 C713.0,431.5 707.8,445.5 707.0,453.0 C706.2,460.5 705.8,467.3 708.0,468.0 C710.2,468.7 715.8,464.5 720.0,457.0 C724.2,449.5 730.5,433.3 733.0,423.0 C735.5,412.7 735.8,402.5 735.0,395.0 C734.2,387.5 729.2,380.8 728.0,378.0" />
<ellipse class="t" cx="645.0" cy="468.0" rx="5.0" ry="5.0" transform="rotate(0 645.0 468.0)" style="stroke-width:2"/>
<ellipse class="t" cx="678.0" cy="467.0" rx="7.0" ry="9.0" transform="rotate(20 678.0 467.0)" style="stroke-width:2"/>
<ellipse class="t" cx="678.0" cy="467.0" rx="3.0" ry="5.0" transform="rotate(20 678.0 467.0)" />
<polyline class="t" points="653.0,513.0 667.0,512.0 673.0,500.0 671.0,491.0"/>
<path class="kk" d="M657.0,448.0 C657.5,447.2 657.8,446.5 660.0,443.0 C662.2,439.5 666.7,432.5 670.0,427.0 C673.3,421.5 676.3,415.3 680.0,410.0 C683.7,404.7 687.5,399.5 692.0,395.0 C696.5,390.5 701.8,386.7 707.0,383.0 C712.2,379.3 717.5,375.7 723.0,373.0 C728.5,370.3 734.3,368.7 740.0,367.0 C745.7,365.3 752.5,363.3 757.0,363.0 C761.5,362.7 764.3,365.5 767.0,365.0 C769.7,364.5 772.0,360.8 773.0,360.0" style="stroke-width:3.6"/>
<ellipse class="k" cx="782.0" cy="367.0" rx="4.5" ry="8.0" transform="rotate(35 782.0 367.0)" style="stroke-width:2.6"/>
<polyline class="k" points="775.0,350.0 771.0,358.0 767.0,363.0"/>
<polyline class="k" points="948.0,183.5 967.0,170.0 975.0,158.5 977.0,137.0 983.0,120.0 993.0,112.0 1040.0,92.0 1087.0,75.0 1144.0,90.0 1195.0,70.0 1205.0,69.0 1212.0,74.0 1217.6,88.0 1218.7,130.0 1223.4,153.4 1225.7,176.7 1223.4,211.8 1218.7,235.0 1209.4,253.8 1204.7,270.0 1195.4,288.8 1181.4,305.0 1165.0,314.5 1141.7,321.5 1098.0,333.0 1090.0,342.0 1037.0,360.0 1023.0,365.0 1010.0,357.0 1008.0,340.0"/>
<polyline class="k" points="1008.0,340.0 1017.0,336.0"/>
<polyline class="kk" points="1012.0,226.0 1015.0,260.0 1019.0,300.0 1023.0,336.0"/>
<polyline points="1012,226 1015,260 1019,300 1023,336" style="fill:none;stroke:#0a0a0a;stroke-width:6"/>
<circle cx="1016" cy="270" r="1.2" fill="#aaa"/>
<circle cx="1018" cy="292" r="1.2" fill="#aaa"/>
<circle cx="1020" cy="310" r="1.2" fill="#aaa"/>
<polyline class="k" points="948.0,183.5 950.0,192.0 1012.0,220.0 1013.0,225.0"/>
<polyline class="t" points="950.0,188.0 1012.0,216.0"/>
<path class="f" d="M1008,341 L1019,332 L1026,336 L1026,356 L1022,364 L1010,358 Z" />
<polyline class="w" points="1012.0,345.0 1014.0,356.0"/>
<polyline class="w" points="1017.0,343.0 1019.0,356.0"/>
<path class="tg" d="M1024.0,360.0 C1025.0,357.5 1027.8,348.2 1030.0,345.0 C1032.2,341.8 1034.8,341.0 1037.0,341.0 C1039.2,341.0 1042.5,343.2 1043.0,345.0 C1043.5,346.8 1041.8,349.2 1040.0,352.0 C1038.2,354.8 1033.3,360.3 1032.0,362.0" />
<polyline class="k" points="1100.0,115.0 1087.0,135.0 1082.0,147.0 1082.0,167.0 1070.0,175.0 1012.0,219.0"/>
<polyline class="t" points="1012.0,223.0 1072.0,180.0"/>
<polyline class="t" points="1100.0,115.0 1147.0,95.0 1202.0,73.0"/>
<polyline class="t" points="1100.0,118.0 1147.0,99.0 1205.0,77.0"/>
<polyline class="t" points="993.0,117.0 1020.0,128.0"/>
<polyline class="t" points="1020.0,128.0 1072.0,107.0 1097.0,115.0"/>
<path class="t" d="M1063.0,113.0 C1061.2,117.2 1055.2,130.7 1052.0,138.0 C1048.8,145.3 1051.0,150.5 1044.0,157.0 C1037.0,163.5 1016.8,172.0 1010.0,177.0 C1003.2,182.0 1004.2,185.3 1003.0,187.0" />
<polyline class="t" points="1003.0,187.0 977.0,177.0"/>
<ellipse class="t" cx="1032.0" cy="142.0" rx="10.0" ry="10.0" transform="rotate(0 1032.0 142.0)" style="stroke-width:2"/>
<polyline class="t" points="980.0,143.0 1008.0,153.0"/>
<polyline class="t" points="980.0,160.0 1008.0,170.0"/>
<polyline class="t" points="1008.0,130.0 1008.0,183.5"/>
<polyline class="t" points="1020.0,128.0 1010.0,140.0 1008.0,150.0"/>
<polyline class="t" points="1020.0,225.0 1100.0,166.0 1207.0,85.7"/>
<polyline class="t" points="1130.0,197.8 1216.4,137.0"/>
<polyline class="t" points="1140.0,195.0 1130.0,200.0"/>
<ellipse class="k" cx="1190.7" cy="139.0" rx="5.5" ry="19.0" transform="rotate(15 1190.7 139.0)" style="stroke-width:2.6"/>
<ellipse class="k" cx="1161.0" cy="158.0" rx="5.5" ry="19.0" transform="rotate(15 1161.0 158.0)" style="stroke-width:2.6"/>
<ellipse class="k" cx="1129.5" cy="185.0" rx="8.5" ry="15.0" transform="rotate(12 1129.5 185.0)" style="stroke-width:2.6"/>
<ellipse class="f" cx="1132.0" cy="186.0" rx="4.0" ry="10.0" transform="rotate(12 1132.0 186.0)" style="fill:#888;stroke:none"/>
<ellipse class="k" cx="1102.0" cy="227.0" rx="17.0" ry="14.0" transform="rotate(-25 1102.0 227.0)" style="stroke-width:2.6"/>
<polyline class="t" points="1133.0,200.0 1117.0,240.0 1117.0,255.0"/>
<path class="k" d="M1057.0,298.0 C1058.0,300.3 1058.3,308.0 1063.0,307.0 C1067.7,306.0 1077.7,298.2 1085.0,292.0 C1092.3,285.8 1102.5,276.7 1107.0,270.0 C1111.5,263.3 1112.7,255.0 1112.0,252.0 C1111.3,249.0 1107.5,250.3 1103.0,252.0 C1098.5,253.7 1090.8,258.2 1085.0,262.0 C1079.2,265.8 1072.7,269.8 1068.0,275.0 C1063.3,280.2 1058.8,289.2 1057.0,293.0 C1055.2,296.8 1056.0,295.7 1057.0,298.0 Z" />
<polyline class="t" points="1065.0,303.0 1108.0,258.0"/>
<path class="t" d="M1218.7,174.4 C1212.2,179.5 1190.6,196.1 1180.0,205.0 C1169.4,213.9 1159.5,222.8 1155.0,228.0 C1150.5,233.2 1151.3,234.3 1153.0,236.0 C1154.7,237.7 1155.2,238.5 1165.0,238.0 C1174.8,237.5 1203.9,233.7 1211.7,232.8" />
<path class="t" d="M1117.0,255.0 C1118.0,257.5 1117.5,267.5 1123.0,270.0 C1128.5,272.5 1135.6,273.9 1150.0,270.0 C1164.4,266.1 1199.5,250.7 1209.4,246.8" />
<polyline class="t" points="1130.0,277.0 1209.4,250.8"/>
<polyline class="k" points="1097.0,333.0 1097.0,310.0 1110.0,288.0 1127.0,282.0 1150.0,273.0 1207.0,253.0"/>
<polyline class="tg" points="1004.0,222.0 997.0,230.0 998.0,248.0 1010.0,254.0"/>
<polyline class="tg" points="1008.0,226.0 1003.0,240.0 1008.0,252.0"/>
<path class="f" d="M848.5,298 L850,290 L861,283 L875.4,288.4 L879,296 L873,305 L866,310 L856,306 Z" style="stroke-width:3"/>
<polyline class="k" points="875.4,288.4 882.5,298.0"/>
<polyline class="k" points="866.0,310.0 871.0,314.0"/>
<polyline class="t" points="879.0,305.0 887.0,313.0"/>
<polyline class="tg" points="883.0,303.0 890.0,310.0"/>
<ellipse class="w" cx="858.0" cy="295.0" rx="2.0" ry="1.5" transform="rotate(0 858.0 295.0)" style="stroke:#888;stroke-width:1.5"/>
<path class="k" d="M882.5,298.0 C885.6,299.9 897.9,307.8 901.0,309.7" style="stroke-width:3.4"/>
<path class="k" d="M901.0,309.7 C905.0,307.2 917.7,299.5 925.0,295.0 C932.3,290.5 941.7,284.8 945.0,282.8" style="stroke-width:3.4"/>
<path class="k" d="M945,282.8 C950,281 954,284 951,289 L947.7,294" style="stroke-width:3.4"/>
<path class="k" d="M947.7,294.0 C943.9,295.8 931.6,301.4 925.0,305.0 C918.4,308.6 910.8,313.7 908.0,315.4" style="stroke-width:3"/>
<polyline class="t" points="911.0,311.0 944.0,291.0"/>
<path class="k" d="M869.0,313.0 C871.7,315.5 884.3,322.9 885.4,328.0 C886.5,333.1 878.5,338.2 875.4,343.7 C872.3,349.1 868.9,355.0 867.0,360.7 C865.1,366.4 863.8,372.3 864.0,377.7 C864.2,383.1 866.1,388.8 868.3,393.3 C870.5,397.8 875.5,402.7 877.0,404.6" style="stroke-width:3.6"/>
<path class="k" d="M908.0,315.4 C905.7,318.0 898.2,325.3 894.0,331.0 C889.8,336.7 885.6,343.5 882.5,349.4 C879.4,355.3 876.3,361.2 875.4,366.4 C874.5,371.6 875.8,376.5 877.0,380.5 C878.2,384.5 881.6,388.8 882.5,390.5" style="stroke-width:3"/>
<path class="t" d="M889.0,330.0 C887.2,333.3 881.0,343.7 878.0,350.0 C875.0,356.3 872.0,362.3 871.0,368.0 C870.0,373.7 871.2,379.7 872.0,384.0 C872.8,388.3 875.3,392.3 876.0,394.0" style="stroke:#777;stroke-width:1.4"/>
<path class="k" d="M882,393 L892,391 L899,394 L894,400 L884,401 Z" style="stroke-width:2.6"/>
<path class="f" d="M864,427 L867,416 L876,406 L887,409 L889,419 L882,428 L872,432 Z" style="stroke-width:2"/>
<ellipse class="w" cx="882.0" cy="414.0" rx="3.0" ry="3.0" transform="rotate(0 882.0 414.0)" style="fill:#fff;stroke:none"/>
<polyline class="w" points="868.0,420.0 872.0,412.0"/>
<polygon class="kk" points="1161.0,534.0 1181.0,506.0 1196.0,481.0 1215.0,453.8 1228.0,436.0 1235.0,433.0 1242.0,436.0 1266.0,424.0 1276.0,422.0 1278.0,428.0 1276.0,442.0 1274.0,452.0 1265.0,469.0 1252.5,478.0 1227.5,497.5 1196.0,512.5 1161.0,534.0"/>
<ellipse class="f" cx="1198.0" cy="488.0" rx="5.0" ry="6.0" transform="rotate(0 1198.0 488.0)" />
<ellipse class="f" cx="1233.0" cy="436.0" rx="5.0" ry="5.0" transform="rotate(0 1233.0 436.0)" />
<ellipse class="f" cx="1276.0" cy="428.0" rx="4.0" ry="6.0" transform="rotate(0 1276.0 428.0)" />
<ellipse class="f" cx="1262.0" cy="470.0" rx="4.0" ry="3.0" transform="rotate(-30 1262.0 470.0)" />
<ellipse class="f" cx="1228.0" cy="497.0" rx="4.0" ry="3.0" transform="rotate(-30 1228.0 497.0)" />
<polyline class="k" points="1231.7,554.3 1245.0,528.0 1258.5,501.8 1270.0,482.0 1276.0,472.7 1280.7,461.0 1285.3,459.8 1294.7,463.3 1330.8,451.7 1342.5,452.8 1346.0,466.8 1348.3,477.3 1357.6,483.2 1357.6,489.0 1348.3,500.7 1330.8,512.3 1313.3,521.7 1301.7,533.3 1292.3,542.6 1293.5,552.0 1276.0,566.0 1269.0,560.1 1243.3,564.8 1235.2,561.3 1231.7,554.3"/>
<polyline class="k" points="1280.7,466.8 1278.3,478.5 1283.0,489.0 1272.5,510.0 1271.3,519.3 1276.0,529.8"/>
<polyline class="k" points="1284.0,466.0 1282.0,476.0 1287.7,475.0 1313.3,476.2 1325.0,479.7"/>
<polyline class="t" points="1296.0,465.0 1330.0,456.0 1338.0,458.0"/>
<polyline class="k" points="1277.0,529.8 1292.3,510.0 1300.0,497.0"/>
<ellipse class="k" cx="1308.7" cy="505.3" rx="13.0" ry="19.0" transform="rotate(32 1308.7 505.3)" style="stroke-width:4"/>
<ellipse class="k" cx="1308.5" cy="506.0" rx="7.0" ry="12.0" transform="rotate(32 1308.5 506.0)" style="stroke-width:2.2"/>
<path class="f" d="M1323,481 L1340,478 L1356,484 L1356,490 L1347,500 L1333,507 L1322,506 L1326,496 Z" />
<ellipse class="f" cx="1345.0" cy="492.0" rx="4.0" ry="6.0" transform="rotate(25 1345.0 492.0)" style="fill:#aaa;stroke:none"/>
<ellipse class="f" cx="1337.0" cy="488.0" rx="2.5" ry="2.0" transform="rotate(0 1337.0 488.0)" style="fill:#ddd;stroke:none"/>
<ellipse class="f" cx="1328.0" cy="490.0" rx="2.5" ry="2.0" transform="rotate(0 1328.0 490.0)" style="fill:#ddd;stroke:none"/>
<path class="f" d="M1337,453 L1345,453 L1346,466 L1339,466 Z" />
<polyline class="k" points="1259.7,528.6 1276.0,535.6 1305.0,525.0"/>
<polyline class="t" points="1259.7,528.6 1262.0,540.0 1270.0,545.0 1294.7,537.0"/>
<polyline class="t" points="1262.0,544.0 1280.0,552.0 1293.0,548.0"/>
<polyline class="t" points="1280.0,552.0 1276.0,566.0"/>
<ellipse class="w" cx="1248.0" cy="557.0" rx="3.0" ry="3.0" transform="rotate(0 1248.0 557.0)" style="stroke:#999;stroke-width:1.5"/>
<path class="f" d="M1236,560 L1242,556 L1246,562 L1240,566 Z" />
<ellipse class="f" cx="1287.0" cy="556.0" rx="3.0" ry="2.5" transform="rotate(0 1287.0 556.0)" />
<polyline class="t" points="1300.0,535.0 1310.0,528.0"/>
<polyline class="kk" points="1372.0,472.0 1372.0,501.0"/>
<ellipse class="k" cx="1370.5" cy="508.0" rx="9.5" ry="9.0" transform="rotate(0 1370.5 508.0)" style="stroke-width:4"/>
<ellipse class="t" cx="1370.0" cy="508.0" rx="4.0" ry="3.0" transform="rotate(-40 1370.0 508.0)" style="stroke:#ccc"/>
<polyline class="kk" points="1392.5,483.5 1394.0,515.0"/>
<ellipse class="f" cx="1390.0" cy="519.5" rx="8.5" ry="7.5" transform="rotate(0 1390.0 519.5)" />
<polyline class="ld" points="1392.0,483.5 1404.0,483.0"/>
<ellipse class="k" cx="1383.0" cy="567.0" rx="13.5" ry="18.0" transform="rotate(40 1383.0 567.0)" style="stroke-width:4.5"/>
<ellipse class="t" cx="1387.0" cy="564.0" rx="10.0" ry="15.0" transform="rotate(40 1387.0 564.0)" style="stroke-width:1.6"/>
<ellipse class="k" cx="793.5" cy="683.0" rx="14.0" ry="17.0" transform="rotate(40 793.5 683.0)" style="stroke-width:5.5"/>
<ellipse class="k" cx="831.5" cy="705.0" rx="15.0" ry="19.0" transform="rotate(35 831.5 705.0)" style="stroke-width:5.5"/>
<path class="f" d="M827,701 L835,704 L834,710 L828,708 Z" />
<ellipse class="k" cx="781.0" cy="789.5" rx="22.5" ry="27.5" transform="rotate(35 781.0 789.5)" style="stroke-width:6.5"/>
<ellipse class="w" cx="781.0" cy="789.5" rx="22.5" ry="27.5" transform="rotate(35 781.0 789.5)" style="stroke-width:1.5;stroke-dasharray:2 6"/>
<path class="k" d="M824,810 C834,796 852,792 864,796 C876,802 876,822 866,838 C856,852 838,858 826,854 C816,848 814,826 824,810 Z" />
<path class="kk" d="M822,812 C815,826 815,846 826,855" style="stroke-width:6"/>
<polyline class="k" points="840.0,822.0 861.0,833.0"/>
<polyline class="k" points="836.0,828.0 857.0,839.0"/>
<g transform="translate(255,718) rotate(28)"><rect x="-17.0" y="-10.0" width="34" height="20" rx="5" ry="5" fill="#fff" stroke="#0a0a0a" stroke-width="3.4"/><ellipse cx="13.0" cy="0" rx="5.5" ry="10.0" fill="#0a0a0a"/><ellipse cx="13.0" cy="1" rx="1.5" ry="2" fill="#777"/></g>
<g transform="translate(431,452) rotate(30)"><rect x="-16.5" y="-10.0" width="33" height="20" rx="5" ry="5" fill="#fff" stroke="#0a0a0a" stroke-width="3.4"/><ellipse cx="12.5" cy="0" rx="5.5" ry="10.0" fill="#0a0a0a"/><ellipse cx="12.5" cy="1" rx="1.5" ry="2" fill="#777"/></g>
<path class="k" d="M1089.7,668.0 C1096.3,665.2 1107.2,653.7 1118.0,648.3 C1128.8,642.9 1145.3,636.8 1154.8,635.6 C1164.2,634.4 1169.0,638.5 1174.7,641.3 C1180.4,644.1 1185.2,648.4 1188.8,652.6 C1192.3,656.9 1194.6,661.6 1196.0,666.8 C1197.4,672.0 1197.9,677.4 1197.4,683.8 C1196.9,690.2 1195.1,697.9 1193.0,705.0 C1190.9,712.1 1188.4,719.9 1184.6,726.3 C1180.8,732.7 1176.3,738.6 1170.4,743.3 C1164.5,748.0 1156.1,751.3 1149.0,754.6 C1141.9,757.9 1135.0,761.6 1128.0,763.0 C1121.0,764.4 1113.8,764.2 1106.7,763.0 C1099.6,761.8 1091.3,759.8 1085.4,756.0 C1079.5,752.2 1074.1,746.6 1071.3,740.4 C1068.5,734.2 1068.0,725.4 1068.4,719.0 C1068.9,712.6 1074.2,706.7 1074.0,702.0 C1073.8,697.3 1069.1,694.8 1067.0,691.0 C1064.9,687.2 1061.1,683.3 1061.3,679.5 C1061.5,675.7 1065.6,670.4 1068.4,668.0 C1071.2,665.6 1074.8,665.3 1078.3,665.3 C1081.8,665.3 1083.1,670.8 1089.7,668.0 Z" />
<path class="k" d="M1077.7,703.6 L1076.7,705.9 L1076.7,706.0 L1075.8,708.0 L1075.8,708.0 L1075.0,709.8 L1074.3,711.3 L1073.8,712.7 L1073.4,713.9 L1073.0,715.1 L1072.7,716.3 L1072.5,717.7 L1072.4,719.3 L1072.3,721.1 L1072.3,723.1 L1072.3,725.1 L1072.4,727.2 L1072.6,729.3 L1072.9,731.4 L1073.3,733.4 L1073.7,735.3 L1074.3,737.1 L1074.9,738.7 L1075.7,740.3 L1076.7,741.9 L1077.7,743.4 L1078.9,744.9 L1080.2,746.4 L1081.5,747.8 L1082.9,749.1 L1084.4,750.4 L1086.0,751.6 L1087.5,752.6 L1089.1,753.6 L1090.9,754.4 L1092.8,755.2 L1094.7,756.0 L1096.8,756.7 L1098.9,757.3 L1101.0,757.8 L1103.1,758.3 L1105.3,758.7 L1107.3,759.1 L1109.4,759.4 L1111.4,759.6 L1113.4,759.8 L1115.4,759.9 L1117.4,760.0 L1119.4,759.9 L1121.4,759.8 L1123.3,759.7 L1125.3,759.4 L1127.2,759.1 L1129.1,758.6 L1131.0,758.1 L1132.9,757.4 L1134.9,756.7 L1136.9,755.8 L1138.9,754.9 L1141.0,754.0 L1143.1,753.0 L1145.2,752.0 L1145.2,752.0 L1147.3,751.0 L1147.3,751.0 L1149.5,750.0 L1149.5,750.0 L1151.7,749.0 L1154.0,748.0 L1156.2,746.9 L1158.4,745.9 L1160.5,744.8 L1162.5,743.7 L1164.5,742.6 L1166.3,741.4 L1167.9,740.2 L1169.5,738.8 L1171.0,737.4 L1172.5,736.0 L1173.9,734.5 L1175.2,732.9 L1176.5,731.3 L1177.7,729.6 L1178.9,727.9 L1180.1,726.1 L1181.1,724.3 L1182.2,722.5 L1183.1,720.6 L1184.0,718.6 L1184.9,716.6 L1185.7,714.5 L1186.4,712.4 L1187.2,710.3 L1187.9,708.1 L1188.5,706.0 L1189.2,703.9 L1189.8,701.8 L1190.4,699.7 L1190.9,697.5 L1191.4,695.4 L1191.9,693.3 L1192.3,691.2 L1192.7,689.2 L1193.0,687.2 L1193.2,685.3 L1193.4,683.5 L1193.5,681.7 L1193.6,680.0 L1193.6,678.4 L1193.5,676.8 L1193.4,675.2 L1193.3,673.7 L1193.1,672.2 L1192.8,670.7 L1192.5,669.3 L1192.1,667.9 L1191.7,666.4 L1191.3,665.1 L1190.8,663.7 L1190.2,662.4 L1189.6,661.1 L1189.0,659.9 L1188.2,658.7 L1187.5,657.5 L1186.6,656.3 L1185.7,655.2 L1184.7,654.0 L1183.6,652.9 L1182.5,651.7 L1181.3,650.6 L1180.0,649.5 L1178.7,648.5 L1177.3,647.5 L1175.9,646.5 L1174.4,645.7 L1172.8,644.8 L1171.2,644.0 L1171.1,643.9 L1169.4,643.0 L1167.8,642.1 L1166.3,641.4 L1164.7,640.7 L1163.1,640.1 L1161.4,639.7 L1159.6,639.5 L1157.6,639.4 L1155.3,639.6 L1152.5,640.0 L1149.3,640.7 L1145.8,641.7 L1142.1,642.8 L1138.3,644.1 L1134.3,645.6 L1130.5,647.1 L1126.7,648.7 L1123.1,650.3 L1119.8,651.9 L1116.6,653.5 L1113.5,655.1 L1110.4,656.7 L1107.5,658.4 L1104.7,660.2 L1102.0,662.0 L1099.5,663.9 L1097.1,666.0 L1094.9,668.2 L1092.8,670.5 L1090.9,673.1 L1089.1,676.1 L1087.3,679.5 L1085.7,683.0 L1084.1,686.7 L1082.7,690.4 L1081.3,694.0 L1080.0,697.4 L1080.0,697.5 L1078.8,700.6 L1078.8,700.7 L1077.7,703.5 Z" style="stroke-width:2.2"/>
<ellipse class="k" cx="1077.0" cy="679.5" rx="6.5" ry="6.0" transform="rotate(0 1077.0 679.5)" style="stroke-width:3"/>
<path class="f" d="M1197,668 L1204,664 L1209,670 L1208,682 L1200,686 Z" />
<path class="f" d="M1118,766 L1128,762 L1137,763 L1136,772 L1127,779 L1120,778 Z" />
<path class="k" d="M1164.5,784.0 C1165.8,780.2 1168.3,771.3 1174.0,767.8 C1179.7,764.3 1191.7,766.2 1198.4,763.0 C1205.2,759.8 1207.8,753.8 1214.5,748.4 C1221.2,743.0 1230.7,735.3 1238.8,730.7 C1246.9,726.1 1255.0,722.9 1263.0,721.0 C1271.0,719.1 1280.3,718.6 1287.0,719.4 C1293.7,720.2 1299.2,724.5 1303.3,725.8 C1307.4,727.1 1308.6,728.4 1311.4,727.4 C1314.2,726.4 1316.9,720.9 1320.0,720.0 C1323.1,719.1 1327.7,719.8 1330.0,722.0 C1332.3,724.2 1333.8,729.2 1334.0,733.0 C1334.2,736.8 1331.3,741.1 1331.0,745.0 C1330.7,748.9 1331.5,750.5 1332.0,756.5 C1332.5,762.5 1334.8,772.6 1334.0,780.7 C1333.2,788.8 1331.3,797.0 1327.5,805.0 C1323.7,813.0 1318.2,821.8 1311.4,829.0 C1304.7,836.2 1294.6,843.1 1287.0,848.5 C1279.4,853.9 1271.3,857.6 1266.0,861.4 C1260.7,865.1 1258.7,869.9 1255.0,871.0 C1251.3,872.1 1249.0,868.3 1243.6,867.8 C1238.2,867.3 1230.1,869.4 1222.6,867.8 C1215.1,866.2 1205.2,862.3 1198.4,858.0 C1191.6,853.7 1185.2,848.2 1182.0,842.0 C1178.8,835.8 1179.2,827.5 1179.0,821.0 C1178.8,814.5 1182.9,808.4 1180.7,803.3 C1178.5,798.2 1168.7,793.6 1166.0,790.4 C1163.3,787.2 1163.2,787.8 1164.5,784.0 Z" />
<path class="k" d="M1188.7,803.3 C1190.6,800.2 1195.7,790.9 1200.0,785.0 C1204.3,779.1 1208.0,774.2 1214.5,767.8 C1221.0,761.4 1229.4,753.3 1238.8,746.8 C1248.2,740.3 1261.6,732.2 1271.0,729.0 C1280.4,725.8 1286.9,725.5 1295.0,727.4 C1303.1,729.3 1313.5,734.6 1319.4,740.3 C1325.4,745.9 1328.8,757.8 1330.7,761.3" style="stroke-width:2.4"/>
<path class="k" d="M1193.6,800.0 C1193.0,803.3 1190.0,812.5 1190.0,820.0 C1190.0,827.5 1193.0,841.0 1193.6,845.2" style="stroke-width:2.4"/>
<path class="k" d="M1219.4,829.0 C1219.4,820.4 1219.4,806.2 1222.6,796.8 C1225.8,787.4 1232.1,779.3 1238.8,772.6 C1245.5,765.9 1254.1,760.3 1263.0,756.5 C1271.9,752.7 1283.4,750.0 1292.0,750.0 C1300.6,750.0 1308.9,752.7 1314.6,756.5 C1320.3,760.3 1324.4,765.9 1326.0,772.6 C1327.6,779.3 1326.7,788.7 1324.3,796.8 C1321.9,804.9 1317.6,813.5 1311.4,821.0 C1305.2,828.5 1295.1,835.8 1287.0,842.0 C1278.9,848.2 1271.0,855.0 1263.0,858.0 C1255.0,861.0 1245.5,861.4 1238.8,859.8 C1232.1,858.2 1225.8,853.6 1222.6,848.5 C1219.4,843.4 1219.4,837.6 1219.4,829.0 Z" />
<path class="k" d="M1170,780 L1180,768 L1196,766 L1207,776 L1206,792 L1194,800 L1178,798 Z" />
<ellipse class="k" cx="1189.0" cy="785.0" rx="8.0" ry="6.5" transform="rotate(-35 1189.0 785.0)" style="stroke-width:5"/>
<ellipse class="f" cx="1324.0" cy="726.0" rx="8.0" ry="5.0" transform="rotate(-45 1324.0 726.0)" />
<ellipse class="f" cx="1252.0" cy="866.0" rx="7.0" ry="6.0" transform="rotate(0 1252.0 866.0)" />
<path class="k" d="M1424.0,574.0 C1422.5,569.5 1416.9,557.3 1415.0,546.7 C1413.1,536.1 1412.6,521.0 1412.6,510.4 C1412.6,499.8 1413.1,490.9 1415.0,483.0 C1416.9,475.1 1420.7,469.0 1424.0,463.0 C1427.3,457.0 1430.8,451.2 1435.0,447.0 C1439.2,442.8 1443.3,440.7 1449.0,438.0 C1454.7,435.3 1460.0,432.2 1469.0,431.0 C1478.0,429.8 1491.7,430.2 1503.0,431.0 C1514.3,431.8 1526.4,436.0 1537.0,435.7 C1547.6,435.4 1558.0,432.8 1566.7,429.0 C1575.4,425.2 1582.2,418.3 1589.0,413.0 C1595.8,407.7 1600.9,401.2 1607.4,397.0 C1613.9,392.8 1621.6,388.7 1628.0,388.0 C1634.4,387.3 1640.8,389.6 1646.0,392.6 C1651.2,395.6 1657.0,400.6 1659.5,406.0 C1662.0,411.4 1660.6,420.4 1661.0,425.0 C1661.4,429.6 1660.7,429.3 1662.0,433.4 C1663.3,437.4 1663.0,444.8 1668.6,449.3 C1674.2,453.8 1687.1,457.6 1695.8,460.6 C1704.5,463.6 1716.5,466.3 1720.7,467.4" style="stroke-width:3.6"/>
<path class="k" d="M1444.4,569.0 C1442.9,565.3 1437.2,556.5 1435.3,546.7 C1433.4,536.9 1433.0,520.2 1433.0,510.4 C1433.0,500.6 1433.0,495.4 1435.3,487.8 C1437.6,480.2 1441.0,471.8 1446.6,465.0 C1452.2,458.2 1459.6,450.0 1469.0,447.0 C1478.4,444.0 1491.7,446.6 1503.0,447.0 C1514.3,447.4 1525.7,450.1 1537.0,449.3 C1548.3,448.6 1561.5,446.3 1571.0,442.5 C1580.5,438.7 1586.6,432.7 1593.8,426.6 C1601.0,420.5 1608.3,410.5 1614.0,406.0 C1619.7,401.5 1622.7,399.7 1628.0,399.4 C1633.3,399.1 1641.5,401.4 1646.0,404.0 C1650.5,406.6 1653.2,409.6 1655.0,415.3 C1656.8,421.0 1655.1,431.2 1657.0,438.0 C1658.9,444.8 1659.8,451.1 1666.3,456.0 C1672.8,460.9 1687.1,464.2 1695.8,467.4 C1704.5,470.6 1714.6,474.0 1718.4,475.3" style="stroke-width:3.6"/>
<path class="f" d="M1718,467 L1738,464 L1746,455 L1758,449 L1770,450 L1779,456 L1776,464 L1764,470 L1750,470 L1734,476 L1720,477 Z" />
<ellipse class="f" cx="1770.0" cy="458.0" rx="3.0" ry="2.0" transform="rotate(0 1770.0 458.0)" style="fill:#777;stroke:none"/>
<path class="k" d="M1406,604 L1426,578 C1432,571 1440,568 1448,568 L1463,569 C1472,572 1477,578 1476,585 C1474,590 1469,592 1466,596 C1462,601 1455,603 1450,604 L1430,611 C1424,614 1417,617 1412,614 C1407,612 1405,608 1406,604 Z" style="stroke-width:3.2"/>
<polyline class="k" points="1416.0,612.0 1438.0,585.0 1446.0,576.0"/>
<polyline class="t" points="1428.0,578.0 1438.0,585.0"/>
<path class="f" d="M1410,606 L1422,600 L1431,609 L1420,616 L1412,614 Z" />
<ellipse class="f" cx="1471.0" cy="581.0" rx="3.5" ry="5.0" transform="rotate(20 1471.0 581.0)" />
</svg></body></html>
